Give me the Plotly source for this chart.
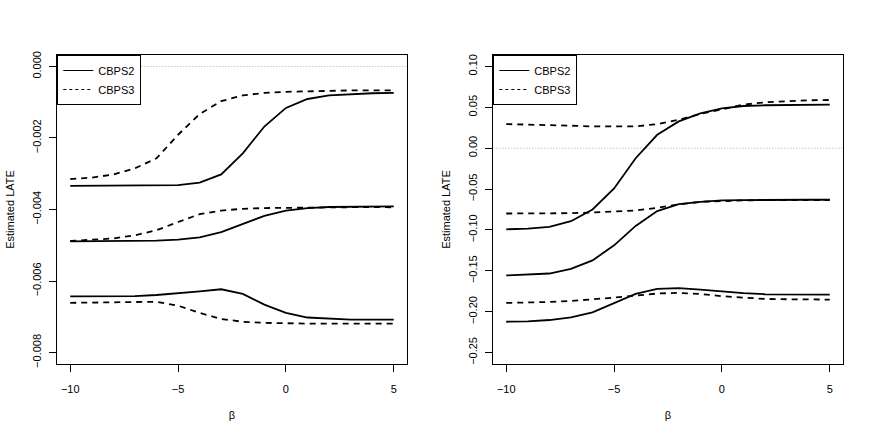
import plotly.graph_objects as go
from plotly.subplots import make_subplots

beta = list(range(-10, 6))

# Left panel (three pairs of curves)
left_cbps2_top = [-0.00334, -0.00334, -0.00334, -0.00334, -0.00333, -0.00332, -0.00325, -0.00302,
                  -0.00243, -0.00168, -0.00116, -0.00091, -0.00081, -0.00077, -0.00075, -0.00074]
left_cbps3_top = [-0.00315, -0.00311, -0.00302, -0.00285, -0.00257, -0.00191, -0.00133, -0.00097,
                  -0.00081, -0.00074, -0.00071, -0.00069, -0.00068, -0.00067, -0.00067, -0.00067]
left_cbps2_mid = [-0.00489, -0.00489, -0.00489, -0.00488, -0.00487, -0.00484, -0.00478, -0.00463,
                  -0.00440, -0.00418, -0.00403, -0.00396, -0.00393, -0.00392, -0.00391, -0.00391]
left_cbps3_mid = [-0.00488, -0.00485, -0.00481, -0.00472, -0.00458, -0.00435, -0.00413, -0.00403,
                  -0.00398, -0.00396, -0.00395, -0.00394, -0.00394, -0.00393, -0.00393, -0.00394]
left_cbps2_bot = [-0.00643, -0.00643, -0.00642, -0.00642, -0.00639, -0.00635, -0.00629, -0.00623,
                  -0.00636, -0.00666, -0.00689, -0.00702, -0.00706, -0.00708, -0.00708, -0.00708]
left_cbps3_bot = [-0.00661, -0.00660, -0.00659, -0.00657, -0.00658, -0.00669, -0.00689, -0.00706,
                  -0.00714, -0.00717, -0.00719, -0.00719, -0.00719, -0.00719, -0.00719, -0.00719]

# Right panel
right_cbps2_top = [-0.0992, -0.0984, -0.0963, -0.0893, -0.0750, -0.0492, -0.0123, 0.0164,
                   0.0328, 0.0426, 0.0488, 0.0516, 0.0525, 0.0529, 0.0529, 0.0533]
right_cbps3_top = [0.0295, 0.0290, 0.0283, 0.0275, 0.0266, 0.0262, 0.0266, 0.0295,
                   0.0348, 0.0418, 0.0480, 0.0533, 0.0561, 0.0578, 0.0586, 0.0590]
right_cbps2_mid = [-0.1557, -0.1549, -0.1533, -0.1475, -0.1373, -0.1188, -0.0951, -0.0770,
                   -0.0684, -0.0656, -0.0639, -0.0635, -0.0631, -0.0631, -0.0631, -0.0631]
right_cbps3_mid = [-0.0799, -0.0799, -0.0795, -0.0795, -0.0787, -0.0779, -0.0762, -0.0730,
                   -0.0688, -0.0656, -0.0643, -0.0639, -0.0635, -0.0635, -0.0635, -0.0635]
right_cbps2_bot = [-0.2123, -0.2119, -0.2102, -0.2070, -0.2008, -0.1897, -0.1783, -0.1721,
                   -0.1713, -0.1729, -0.1754, -0.1774, -0.1787, -0.1791, -0.1791, -0.1791]
right_cbps3_bot = [-0.1893, -0.1889, -0.1881, -0.1869, -0.1852, -0.1828, -0.1803, -0.1778,
                   -0.1770, -0.1783, -0.1811, -0.1832, -0.1844, -0.1848, -0.1852, -0.1852]

x_ticks = [-10, -5, 0, 5]
left_y_ticks = [0.000, -0.002, -0.004, -0.006, -0.008]
left_y_labels = ["0.000", "\u22120.002", "\u22120.004", "\u22120.006", "\u22120.008"]
right_y_ticks = [0.10, 0.05, 0.00, -0.05, -0.10, -0.15, -0.20, -0.25]
right_y_labels = ["0.10", "0.05", "0.00", "\u22120.05", "\u22120.10", "\u22120.15", "\u22120.20", "\u22120.25"]
x_tick_labels = ["\u221210", "\u22125", "0", "5"]

FONT = "Liberation Sans, Arial, Helvetica, sans-serif"
W, H = 872, 436

fig = make_subplots(rows=1, cols=2)

solid = dict(color="black", width=1.8)
dashed = dict(color="black", width=1.8, dash="6px,5px")

panels = [
    (1, [left_cbps2_top, left_cbps2_mid, left_cbps2_bot], [left_cbps3_top, left_cbps3_mid, left_cbps3_bot], "legend"),
    (2, [right_cbps2_top, right_cbps2_mid, right_cbps2_bot], [right_cbps3_top, right_cbps3_mid, right_cbps3_bot], "legend2"),
]

for col, s2, s3, leg in panels:
    for ys in s2:
        fig.add_trace(go.Scatter(x=beta, y=ys, mode="lines", line=solid, showlegend=False,
                                 hoverinfo="skip"), row=1, col=col)
    for ys in s3:
        fig.add_trace(go.Scatter(x=beta, y=ys, mode="lines", line=dashed, showlegend=False,
                                 hoverinfo="skip"), row=1, col=col)
    fig.add_trace(go.Scatter(x=[None], y=[None], mode="lines", name="CBPS2",
                             line=dict(color="black", width=1), legend=leg), row=1, col=col)
    fig.add_trace(go.Scatter(x=[None], y=[None], mode="lines", name="CBPS3",
                             line=dict(color="black", width=1, dash="3px,3px"), legend=leg), row=1, col=col)
    fig.add_hline(y=0, line=dict(color="#aaaaaa", width=1, dash="1px,2px"), layer="below", row=1, col=col)

# geometry (px)
L1, R1 = 57.3, 406.7
L2, R2 = 493.3, 842.7
TOP, BOT = 55, 364

axis_common = dict(showline=True, mirror=True, linecolor="black", linewidth=1,
                   ticks="outside", ticklen=7, tickwidth=1, tickcolor="black",
                   showgrid=False, zeroline=False, automargin=False,
                   tickfont=dict(family=FONT, size=11, color="black"),
                   title_font=dict(family=FONT, size=11, color="black"))

fig.update_xaxes(**axis_common, range=[-10.6, 5.6], tickvals=x_ticks, ticktext=x_tick_labels,
                 ticklabelstandoff=8, title_text="\u03b2", title_standoff=17)
fig.update_xaxes(domain=[L1 / W, R1 / W], row=1, col=1)
fig.update_xaxes(domain=[L2 / W, R2 / W], row=1, col=2)

fig.update_yaxes(**axis_common, tickangle=-90, ticklabelstandoff=4,
                 title_text="Estimated LATE", title_standoff=14)
fig.update_yaxes(domain=[(H - BOT) / H, (H - TOP) / H])
fig.update_yaxes(range=[-0.00832, 0.00032], tickvals=left_y_ticks, ticktext=left_y_labels, row=1, col=1)
fig.update_yaxes(range=[-0.264, 0.114], tickvals=right_y_ticks, ticktext=right_y_labels, row=1, col=2)

legend_common = dict(bgcolor="white", bordercolor="black", borderwidth=1,
                     font=dict(family=FONT, size=11, color="black"),
                     xanchor="left", yanchor="top", tracegroupgap=0, itemwidth=30)

fig.update_layout(
    width=W, height=H,
    margin=dict(l=0, r=0, t=0, b=0),
    paper_bgcolor="white", plot_bgcolor="white",
    legend=dict(**legend_common, x=L1 / W, y=(H - TOP) / H),
    legend2=dict(**legend_common, x=L2 / W, y=(H - TOP) / H),
)

fig.write_html("out.html", config={"displayModeBar": False},
               post_script="document.body.style.margin='0';")
